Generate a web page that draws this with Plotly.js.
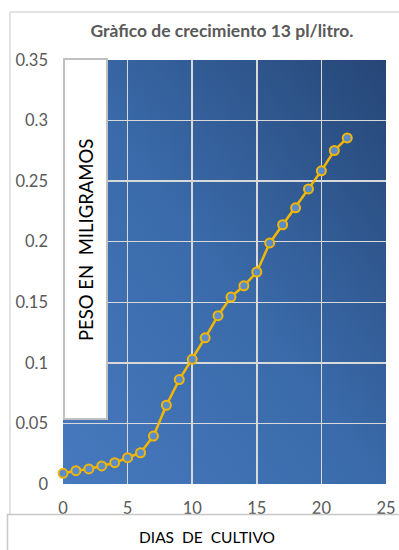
<!DOCTYPE html>
<html>
<head>
<meta charset="utf-8">
<script src="https://cdn.plot.ly/plotly-3.0.1.min.js"></script>
<style>
  html, body { margin: 0; padding: 0; background: #ffffff; }
  #chart { width: 399px; height: 550px; }
</style>
</head>
<body>
<div id="chart"></div>
<script>
// Growth curve: culture days vs. weight in milligrams
const dias = [0, 1, 2, 3, 4, 5, 6, 7, 8, 9, 10, 11, 12, 13, 14, 15, 16, 17, 18, 19, 20, 21, 22];
const peso = [0.0088, 0.011, 0.0124, 0.0149, 0.0176, 0.0217, 0.0258, 0.0396, 0.065, 0.0862, 0.1029,
              0.1207, 0.1389, 0.1543, 0.1636, 0.175, 0.199, 0.214, 0.228, 0.2436, 0.2585, 0.2753, 0.2857];
const xTicks = [0, 5, 10, 15, 20, 25];
const yTicks = [0, 0.05, 0.1, 0.15, 0.2, 0.25, 0.3, 0.35];

const titulo = 'Gràfico de crecimiento 13 pl/litro.';
const tituloY = 'PESO EN  MILIGRAMOS';
const tituloX = 'DIAS  DE  CULTIVO';

// Plot area geometry (pixels)
const W = 399, H = 550;
const M = { l: 63, r: 13, t: 60, b: 66 };
const PW = W - M.l - M.r, PH = H - M.t - M.b;
const px = x => (x - M.l) / PW;          // pixel -> paper x
const py = y => (H - M.b - y) / PH;      // pixel -> paper y

// Diagonal blue gradient for the plotting area
const grad = '<svg xmlns="http://www.w3.org/2000/svg" width="100" height="100" preserveAspectRatio="none">' +
  '<defs><linearGradient id="g" x1="0" y1="1" x2="1" y2="0">' +
  '<stop offset="0" stop-color="#4679be"/><stop offset="0.5" stop-color="#3a6aa9"/>' +
  '<stop offset="1" stop-color="#264676"/></linearGradient></defs>' +
  '<rect width="100" height="100" fill="url(#g)"/></svg>';
const gradSrc = 'data:image/svg+xml;base64,' + btoa(grad);

const trace = {
  x: dias, y: peso, type: 'scatter', mode: 'lines+markers',
  line: { color: '#f2b705', width: 2.5 },
  marker: { size: 9, color: '#5a8ccb', line: { color: '#f2b705', width: 2 } },
  cliponaxis: false, hoverinfo: 'x+y'
};

const gray = '#595959';
const FONT = 'Lato, Open Sans, sans-serif';
const layout = {
  width: W, height: H,
  margin: M,
  paper_bgcolor: '#ffffff',
  plot_bgcolor: 'rgba(0,0,0,0)',
  showlegend: false,
  font: { family: FONT, color: gray },
  title: {
    text: '<b>' + titulo + '</b>',
    font: { size: 17.5, color: gray, family: FONT },
    x: px(222), xanchor: 'center', y: 1 - 31 / H, yanchor: 'middle',
    xref: 'paper'
  },
  xaxis: {
    range: [0, 25], tickvals: xTicks, ticktext: xTicks.map(String),
    showgrid: true, gridcolor: '#d9d9d9', gridwidth: 1.5,
    zeroline: false, showline: false, ticks: '',
    tickfont: { size: 16.5, color: gray }, ticklabelstandoff: 12
  },
  yaxis: {
    range: [0, 0.35], tickvals: yTicks, ticktext: yTicks.map(String),
    showgrid: true, gridcolor: '#d9d9d9', gridwidth: 1.5,
    zeroline: false, showline: false, ticks: '',
    tickfont: { size: 16.5, color: gray }, ticklabelstandoff: 14
  },
  images: [{
    source: gradSrc, xref: 'paper', yref: 'paper',
    x: 0, y: 1, sizex: 1, sizey: 1, sizing: 'stretch', layer: 'below'
  }],
  shapes: [
    // outer chart frame (left and top edges)
    { type: 'line', xref: 'paper', yref: 'paper', x0: px(10), x1: px(10), y0: py(12), y1: py(514),
      line: { color: '#d9d9d9', width: 1.5 } },
    { type: 'line', xref: 'paper', yref: 'paper', x0: px(10), x1: px(399), y0: py(12), y1: py(12),
      line: { color: '#d9d9d9', width: 1.5 } },
    // y-axis title box
    { type: 'rect', xref: 'paper', yref: 'paper', x0: px(64), x1: px(107), y0: py(419), y1: py(59),
      fillcolor: '#ffffff', line: { color: '#c0c0c0', width: 2 }, layer: 'above' },
    // x-axis title box
    { type: 'rect', xref: 'paper', yref: 'paper', x0: px(7.5), x1: px(402), y0: py(553), y1: py(514.5),
      fillcolor: '#ffffff', line: { color: '#c8c8c8', width: 1.5 } }
  ],
  annotations: [
    { text: tituloY, xref: 'paper', yref: 'paper', x: px(86), y: py(240), textangle: -90,
      showarrow: false, font: { size: 18.5, color: '#000000', family: FONT },
      xanchor: 'center', yanchor: 'middle' },
    { text: tituloX, xref: 'paper', yref: 'paper', x: px(207), y: py(537),
      showarrow: false, font: { size: 15.5, color: '#000000', family: FONT },
      xanchor: 'center', yanchor: 'middle' }
  ]
};

Plotly.newPlot('chart', [trace], layout, { displayModeBar: false, staticPlot: true });
</script>
</body>
</html>
